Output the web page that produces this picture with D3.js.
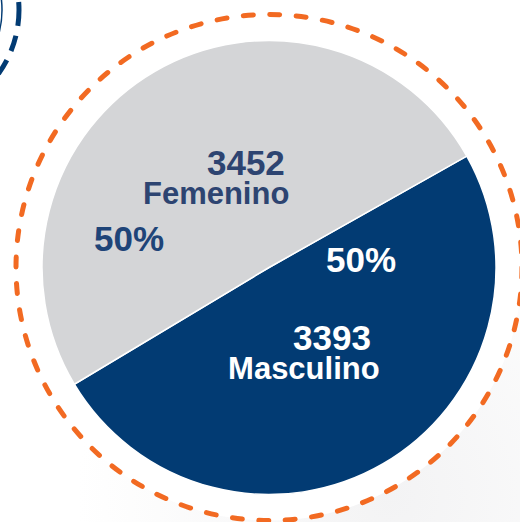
<!DOCTYPE html>
<html lang="es">
<head>
<meta charset="utf-8">
<script src="https://cdn.jsdelivr.net/npm/d3@7/dist/d3.min.js"></script>
<style>
body { margin:0; background:#fff; font-family:"Liberation Sans", Arial, sans-serif; }
svg { display:block; }
</style>
</head>
<body>
<script>
// datos
var categorias = ["Masculino", "Femenino"];
var valores = [3393, 3452];
var porcentajes = ["50%", "50%"];

var width = 520, height = 522;
var cx = 269, cy = 267.5, radio = 227;

var color = d3.scaleOrdinal().domain(categorias).range(["#023b73", "#d4d5d7"]);

var svg = d3.select("body").append("svg")
    .attr("width", width)
    .attr("height", height);

// fondo con sombra suave abajo a la derecha
var defs = svg.append("defs");
var g1 = defs.append("radialGradient").attr("id", "sombra").attr("cx", "0.75").attr("cy", "0.95").attr("r", "0.6");
g1.append("stop").attr("offset", "0%").attr("stop-color", "#f3f3f4");
g1.append("stop").attr("offset", "100%").attr("stop-color", "#ffffff");
svg.append("rect").attr("width", width).attr("height", height).attr("fill", "url(#sombra)");

// circulo decorativo azul arriba a la izquierda
svg.append("circle").attr("cx", -90).attr("cy", 10).attr("r", 92)
    .attr("fill", "none").attr("stroke", "#023b73").attr("stroke-width", 1.5);
svg.append("circle").attr("cx", -90).attr("cy", 10).attr("r", 109)
    .attr("fill", "none").attr("stroke", "#023b73").attr("stroke-width", 5)
    .attr("stroke-dasharray", "16 10");

var g = svg.append("g").attr("transform", "translate(" + cx + "," + cy + ")");

// circulo punteado naranja
g.append("circle").attr("r", 253)
    .attr("fill", "#fff")
    .attr("stroke", "#f26a22").attr("stroke-width", 5)
    .attr("stroke-linecap", "round")
    .attr("stroke-dasharray", "10 16.5");

var pie = d3.pie().sort(null).value(function(d) { return d; })
    .startAngle(60.6 * Math.PI / 180)
    .endAngle((60.6 + 360) * Math.PI / 180);
var arc = d3.arc().innerRadius(0).outerRadius(radio);
var arcs = pie(valores);

g.selectAll("path.slice")
    .data(arcs)
    .enter()
    .append("path")
    .attr("class", "slice")
    .attr("d", arc)
    .attr("fill", function(d, i) { return color(categorias[i]); })
    .attr("stroke", "#fff")
    .attr("stroke-width", 1.5);

// etiquetas, relativas al centroide de cada porcion
var txtColor = ["#ffffff", "#2d4471"];
var pctColor = ["#ffffff", "#1e4478"];
var offNum = [[-33, -16], [-5, 6]];
var offCat = [[-98, 13], [-69, 35]];
var offPct = [[0, -94], [-118, 82]];

arcs.forEach(function(d, i) {
    var c = arc.centroid(d);
    g.append("text")
        .attr("x", c[0] + offNum[i][0]).attr("y", c[1] + offNum[i][1])
        .attr("fill", txtColor[i])
        .style("font-size", "35px").style("font-weight", "bold")
        .text(valores[i]);
    g.append("text")
        .attr("x", c[0] + offCat[i][0]).attr("y", c[1] + offCat[i][1])
        .attr("fill", txtColor[i])
        .style("font-size", "31px").style("font-weight", "bold")
        .text(categorias[i]);
    g.append("text")
        .attr("x", c[0] + offPct[i][0]).attr("y", c[1] + offPct[i][1])
        .attr("fill", pctColor[i])
        .style("font-size", "35px").style("font-weight", "bold")
        .text(porcentajes[i]);
});
</script>
</body>
</html>
